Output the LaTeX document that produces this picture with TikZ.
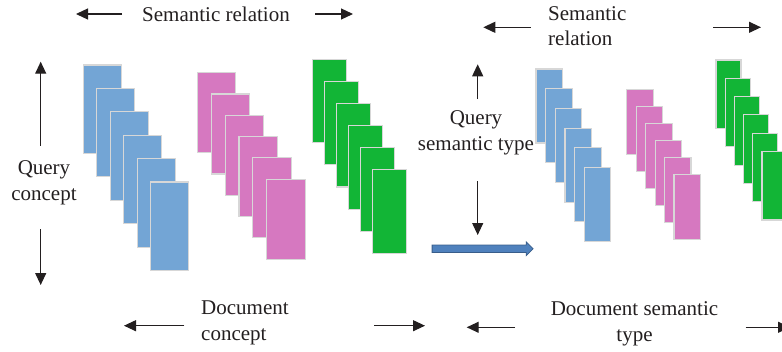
\documentclass[tikz,border=0pt]{standalone}
\usepackage{fontspec}
\setmainfont{Liberation Serif}
\usetikzlibrary{arrows.meta,shapes.arrows}

\definecolor{cblue}{RGB}{115,165,213}
\definecolor{cpink}{RGB}{214,120,192}
\definecolor{cgreen}{RGB}{18,181,54}
\definecolor{cedge}{RGB}{215,215,215}
\definecolor{flowfill}{RGB}{79,129,189}
\definecolor{flowedge}{RGB}{56,93,138}
\definecolor{ink}{RGB}{35,31,32}

\begin{document}
\begin{tikzpicture}[x=1pt,y=-1pt,
  card/.style={draw=cedge, line width=1.1pt, inner sep=0pt, outer sep=0pt, anchor=north west},
  label/.style={font=\fontsize{21}{25.5}\selectfont, text=ink, inner sep=0pt},
  pointer/.style={-{Triangle[length=12pt,width=11pt]}, line width=1.2pt, ink},
]
\useasboundingbox (0,0) rectangle (782,351);
\clip (0,0) rectangle (782,351);

% ---- left panel: concept stacks ----
\foreach \i in {0,...,5}
  \node[card, fill=cblue, minimum width=38pt, minimum height=88.5pt]
    (lb\i) at ({83.3+13.5*\i},{65+23.4*\i}) {};
\foreach \i in {0,...,5}
  \node[card, fill=cpink, minimum width=38.5pt, minimum height=80pt]
    (lp\i) at ({197.3+13.9*\i},{72.7+21.3*\i}) {};
\foreach \i in {0,...,5}
  \node[card, fill=cgreen, minimum width=34pt, minimum height=83.5pt]
    (lg\i) at ({312.7+12*\i},{59.3+22.1*\i}) {};

% ---- right panel: semantic type stacks ----
\foreach \i in {0,...,5}
  \node[card, fill=cblue, minimum width=26.5pt, minimum height=74pt]
    (rb\i) at ({536+9.66*\i},{69+19.7*\i}) {};
\foreach \i in {0,...,5}
  \node[card, fill=cpink, minimum width=26.5pt, minimum height=65pt]
    (rp\i) at ({626.7+9.46*\i},{89.3+17.1*\i}) {};
\foreach \i in {0,...,5}
  \node[card, fill=cgreen, minimum width=25pt, minimum height=68.5pt]
    (rg\i) at ({716+9.2*\i},{60+18.3*\i}) {};

% ---- labels ----
\node[label] (semrel) at (216,14) {Semantic relation};
\node[label, align=center] (qconcept) at (44,183) {Query\\concept};
\node[label, align=left, anchor=west] (dconcept) at (201,323) {Document\\concept};
\node[label, align=left, anchor=west] (semrel2) at (548,26) {Semantic\\relation};
\node[label, align=center] (qtype) at (476,133) {Query\\semantic type};
\node[label, align=center] (dtype) at (634.5,324) {Document semantic\\type};

% ---- arrow end points ----
\coordinate (a1s) at (122,14);   \coordinate (a1e) at (76,14);
\coordinate (a2s) at (315,14);   \coordinate (a2e) at (353,14);
\coordinate (a3s) at (40.7,145.7); \coordinate (a3e) at (40.7,61.7);
\coordinate (a4s) at (40.7,229.3); \coordinate (a4e) at (40.7,285);
\coordinate (a5s) at (184.3,325.7); \coordinate (a5e) at (124,325.7);
\coordinate (a6s) at (374,325.7); \coordinate (a6e) at (425,325.7);
\coordinate (b1s) at (530.7,27.3); \coordinate (b1e) at (483.3,27.3);
\coordinate (b2s) at (713.3,27.3); \coordinate (b2e) at (761,27.3);
\coordinate (b3s) at (477.7,99); \coordinate (b3e) at (477.7,64.3);
\coordinate (b4s) at (477.7,181); \coordinate (b4e) at (477.7,235);
\coordinate (b5s) at (515,327.3); \coordinate (b5e) at (466.7,327.3);
\coordinate (b6s) at (745.7,327.3); \coordinate (b6e) at (790,327.3);

\foreach \p in {a1,a2,a3,a4,a5,a6,b1,b2,b3,b4,b5,b6}
  \draw[pointer] (\p s) -- (\p e);

% ---- transition arrow between the panels ----
\node[single arrow, draw=flowedge, fill=flowfill, line width=0.8pt,
      minimum height=101pt, minimum width=13pt, inner sep=0pt, inner ysep=3.3pt,
      single arrow head extend=3.2pt, anchor=west] (flow) at (431.7,248.7) {};
\end{tikzpicture}
\end{document}
